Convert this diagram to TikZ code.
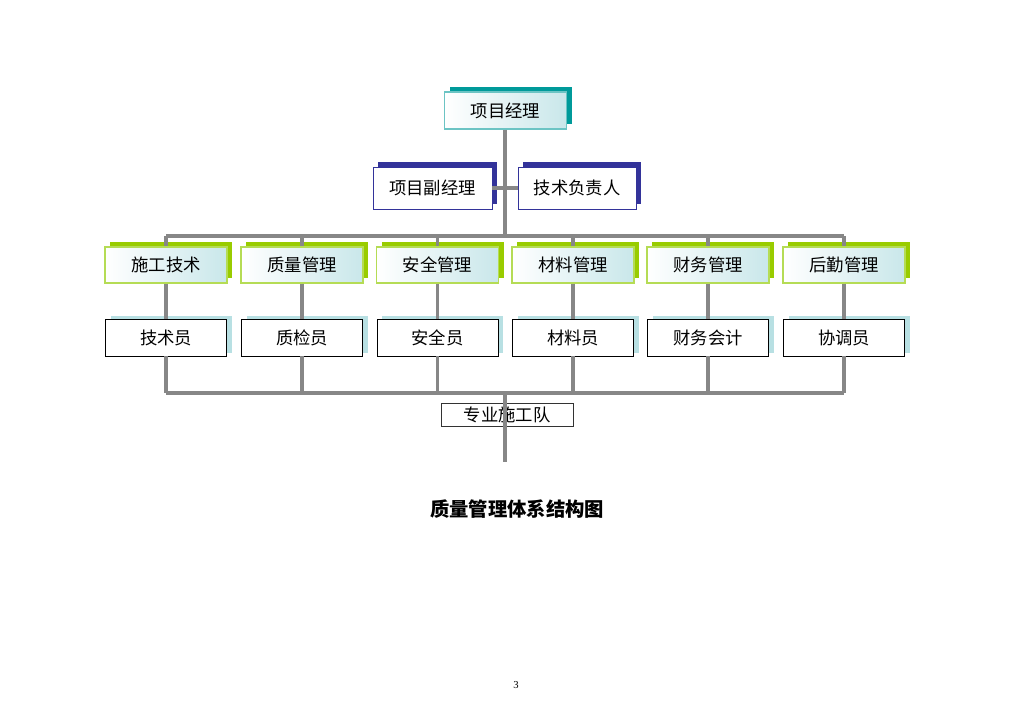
\documentclass[tikz,border=0pt]{standalone}
\usepackage{fontspec}
\setmainfont{Noto Sans CJK SC}
\newfontfamily\serifnum{Liberation Serif}
\usetikzlibrary{shadows}
\definecolor{lineg}{HTML}{878787}
\definecolor{tealsh}{HTML}{009A9A}
\definecolor{tealbd}{HTML}{6CC4C4}
\definecolor{navy}{HTML}{33339A}
\definecolor{greensh}{HTML}{99CC00}
\definecolor{greenbd}{HTML}{B5DC55}
\definecolor{paleblue}{HTML}{B8E0E3}
\definecolor{gradr}{HTML}{C9E7EA}
\tikzset{
  conn/.style={draw=lineg, line width=2.5pt},
  boxtxt/.style={font=\fontsize{13pt}{15pt}\selectfont, inner sep=0pt, anchor=center},
  topbox/.style={boxtxt, draw=tealbd, line width=1pt, left color=white, right color=gradr,
     minimum width=91.5pt, minimum height=27.75pt,
     general shadow={fill=tealsh, shadow xshift=3.75pt, shadow yshift=3.75pt}},
  deputy/.style={boxtxt, draw=navy, line width=0.6pt, fill=white,
     minimum height=31.5pt,
     general shadow={fill=navy, shadow xshift=3.75pt, shadow yshift=3.75pt}},
  dept/.style={boxtxt, draw=greenbd, line width=1pt, left color=white, right color=gradr,
     minimum width=91.5pt, minimum height=27pt,
     general shadow={fill=greensh, shadow xshift=3.75pt, shadow yshift=3.75pt}},
  staff/.style={boxtxt, draw=black, line width=0.7pt, fill=white,
     minimum width=90.75pt, minimum height=27.75pt,
     general shadow={fill=paleblue, shadow xshift=3.75pt, shadow yshift=2.6pt}},
  team/.style={boxtxt, draw=black!80, line width=0.6pt, fill=white,
     minimum width=99pt, minimum height=17.25pt},
}
\begin{document}
\begin{tikzpicture}[x=0.75pt,y=-0.75pt]
\useasboundingbox (0,0) rectangle (1024,724);
% coordinates
\coordinate (bartop) at (505,236);
\coordinate (barL) at (166,236);
\coordinate (barR) at (844,236);
\coordinate (botL) at (166,393);
\coordinate (botR) at (844,393);
\coordinate (botC) at (505,393);
\coordinate (tail) at (505,462);
% top
\node[topbox] (pm) at (505.5,110.5) {项目经理};
\draw[conn] (pm.south -| bartop) -- (bartop);
\draw[conn] (barL) -- (barR);
% deputies
\node[deputy, minimum width=89.25pt] (dpm) at (432.5,188) {项目副经理};
\node[deputy, minimum width=88.5pt] (tech) at (577,188) {技术负责人};
\draw[conn] (dpm.east) -- (tech.west);
% departments
\foreach \n/\x/\d/\s in {a/166/施工技术/技术员, b/302/质量管理/质检员, c/437.5/安全管理/安全员,
                         d/573/材料管理/材料员, e/708/财务管理/财务会计, f/844/后勤管理/协调员}{
  \node[dept] (d\n) at (\x,265) {\d};
  \node[staff] (s\n) at (\x,337.5) {\s};
  \draw[conn] (d\n.north |- barL) -- (d\n.north);
  \draw[conn] (d\n.south) -- (s\n.north);
  \draw[conn] (s\n.south) -- (s\n.south |- botL);
}
\draw[conn] (botL) -- (botR);
\node[team] (tm) at (507,414.5) {专业施工队};
\draw[conn] (botC) -- (tail);
% title
\node[font=\fontsize{14.5pt}{16pt}\selectfont\bfseries, inner sep=0pt] (title) at (517,509) {质量管理体系结构图};
\node[font=\serifnum\fontsize{8pt}{9pt}\selectfont, inner sep=0pt] (pg) at (516,685) {3};
\end{tikzpicture}
\end{document}
